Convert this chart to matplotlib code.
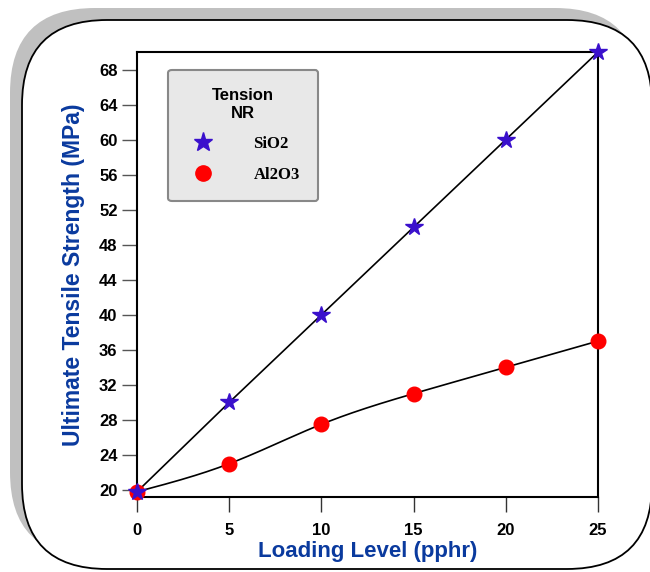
import numpy as np
import matplotlib
matplotlib.use("Agg")
import matplotlib.pyplot as plt
from matplotlib.patches import FancyBboxPatch
from matplotlib.lines import Line2D

loading = [0, 5, 10, 15, 20, 25]
sio2 = [19.8, 30, 40, 50, 60, 70]
al2o3 = [19.8, 23, 27.5, 31, 34, 37]
y_ticks = [20, 24, 28, 32, 36, 40, 44, 48, 52, 56, 60, 64, 68]
x_ticks = [0, 5, 10, 15, 20, 25]

blue_lbl = '#0a3a9e'
sans = ['Liberation Sans', 'DejaVu Sans']


def natural_spline(x, y, n=200):
    # plain natural cubic spline, no scipy needed
    x = np.asarray(x, float)
    y = np.asarray(y, float)
    k = len(x)
    h = np.diff(x)
    A = np.zeros((k, k))
    r = np.zeros(k)
    A[0, 0] = A[-1, -1] = 1
    for i in range(1, k - 1):
        A[i, i - 1] = h[i - 1]
        A[i, i] = 2 * (h[i - 1] + h[i])
        A[i, i + 1] = h[i]
        r[i] = 3 * ((y[i + 1] - y[i]) / h[i] - (y[i] - y[i - 1]) / h[i - 1])
    c = np.linalg.solve(A, r)
    xs = np.linspace(x[0], x[-1], n)
    ys = np.empty_like(xs)
    for j, xv in enumerate(xs):
        i = min(np.searchsorted(x, xv, side='right') - 1, k - 2)
        b = (y[i + 1] - y[i]) / h[i] - h[i] * (2 * c[i] + c[i + 1]) / 3
        d = (c[i + 1] - c[i]) / (3 * h[i])
        t = xv - x[i]
        ys[j] = y[i] + b * t + c[i] * t ** 2 + d * t ** 3
    return xs, ys


fig = plt.figure(figsize=(6.5, 5.72), dpi=100)
W, H = 650, 572

# background axes in pixel units for the rounded frame and its shadow
bg = fig.add_axes([0, 0, 1, 1], zorder=0)
bg.set_xlim(0, W)
bg.set_ylim(H, 0)
bg.axis('off')
bg.add_patch(FancyBboxPatch((10, 8), 630, 549, boxstyle='round,pad=0,rounding_size=85',
                            facecolor='#c0c0c0', edgecolor='none'))
bg.add_patch(FancyBboxPatch((22, 20), 630, 549, boxstyle='round,pad=0,rounding_size=85',
                            facecolor='white', edgecolor='black', linewidth=1.3))

ax = fig.add_axes([137 / W, 1 - 497 / H, 461 / W, 445 / H], zorder=1)
ax.set_facecolor('none')
ax.set_xlim(0, 25)
ax.set_ylim(19.2, 70)

ax.plot(loading, sio2, color='black', lw=1.2, zorder=2)
xs, ys = natural_spline(loading, al2o3)
ax.plot(xs, ys, color='black', lw=1.2, zorder=2)
ax.plot(loading, al2o3, 'o', color='red', ms=10.5, zorder=3, clip_on=False)
ax.plot(loading, sio2, '*', color='#3a10cc', ms=13, zorder=4, clip_on=False)

for s in ax.spines.values():
    s.set_linewidth(1.5)

ax.set_xticks(x_ticks)
ax.set_yticks(y_ticks)
ax.tick_params(axis='y', direction='out', length=11, width=1, color='#555555', pad=3)
ax.tick_params(axis='x', direction='out', length=11, width=1, color='#333333', pad=8)
for lab in ax.get_xticklabels() + ax.get_yticklabels():
    lab.set_family(sans)
    lab.set_fontweight('bold')
    lab.set_fontsize(12)

ax.set_xlabel('Loading Level (pphr)', family=sans, fontweight='bold',
              fontsize=16, color=blue_lbl, labelpad=2)
ax.set_ylabel('Ultimate Tensile Strength (MPa)', family=sans, fontweight='bold',
              fontsize=16.5, color=blue_lbl, labelpad=10)

handles = [Line2D([], [], ls='none', marker='*', color='#3a10cc', ms=14),
           Line2D([], [], ls='none', marker='o', color='red', ms=11)]
leg = ax.legend(handles, ['SiO2', 'Al2O3'], title='Tension\nNR',
                loc='upper left', bbox_to_anchor=(0.068, 0.96), frameon=True,
                fancybox=True, facecolor='#e8e8e8', edgecolor='#888888',
                framealpha=1, borderpad=1.1, labelspacing=0.9, handletextpad=2.0,
                borderaxespad=0,
                prop={'family': ['Liberation Serif', 'DejaVu Serif'],
                      'weight': 'bold', 'size': 12})
leg.get_title().set_family(sans)
leg.get_title().set_fontweight('bold')
leg.get_title().set_fontsize(12)
leg.get_title().set_multialignment('center')
leg.get_frame().set_linewidth(1.5)

fig.savefig('out.png', dpi=100)
